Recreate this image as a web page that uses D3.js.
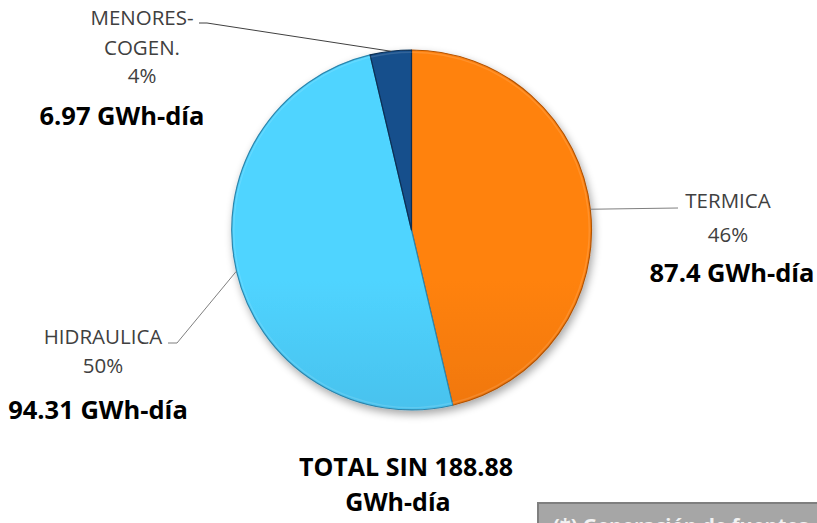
<!DOCTYPE html>
<html>
<head>
<meta charset="utf-8">
<script src="https://cdn.jsdelivr.net/npm/d3@7"></script>
<style>
  html, body { margin: 0; padding: 0; background: #fff; overflow: hidden; }
  svg { display: block; }
</style>
</head>
<body>
<div id="holder"></div>
<script>
const w = 817;
const h = 523;

// DATA
const categorias = ["TERMICA", "HIDRAULICA", "MENORES-\nCOGEN."];
const energia = [87.4, 94.31, 6.97];
const unidad = "GWh-día";
const totalSin = 188.88;

// LAYOUT
const cx = 411.5, cy = 230, radio = 180;
const colores = [
    { top: "#ff8210", bottom: "#d6640b", edge: "#b35406" },
    { top: "#50d4ff", bottom: "#3aa2cf", edge: "#2d86ad" },
    { top: "#164f8c", bottom: "#0e3e6e", edge: "#0a2e52" }
];
// where each label block sits (center x, baselines) and its leader elbow
const etiquetas = [
    { x: 728, lines: [208, 242], bold: 282, boldX: 732, elbow: [[678, 208]] },
    { x: 103, lines: [344, 373], bold: 419, boldX: 98, elbow: [[177, 343], [168, 343]] },
    { x: 142, lines: [25, 55, 83], bold: 125, boldX: 122, elbow: [[207, 23], [199, 23]] }
];

const svg = d3.select("#holder")
    .append("svg")
    .attr("width", w)
    .attr("height", h)
    .style("font-family", "'Open Sans', sans-serif");

const defs = svg.append("defs");

colores.forEach((c, i) => {
    const g = defs.append("linearGradient")
        .attr("id", "grad" + i)
        .attr("gradientUnits", "userSpaceOnUse")
        .attr("x1", 0).attr("y1", cy - radio)
        .attr("x2", 0).attr("y2", cy + radio);
    g.append("stop").attr("offset", "0%").attr("stop-color", c.top);
    g.append("stop").attr("offset", "100%").attr("stop-color", c.bottom);
});

const sombra = defs.append("filter")
    .attr("id", "sombra")
    .attr("x", "-20%").attr("y", "-20%")
    .attr("width", "140%").attr("height", "140%");
sombra.append("feGaussianBlur").attr("in", "SourceAlpha").attr("stdDeviation", 4);
sombra.append("feOffset").attr("dx", 2).attr("dy", 4).attr("result", "blur");
sombra.append("feComponentTransfer").append("feFuncA").attr("type", "linear").attr("slope", 0.35);
const merge = sombra.append("feMerge");
merge.append("feMergeNode");
merge.append("feMergeNode").attr("in", "SourceGraphic");

// PIE
const pie = d3.pie().sort(null).value(d => d);
const arcos = pie(energia);
const arc = d3.arc().innerRadius(0).outerRadius(radio);
const borde = d3.arc().innerRadius(radio).outerRadius(radio);
const suma = d3.sum(energia);

const g = svg.append("g")
    .attr("transform", `translate(${cx},${cy})`);

g.append("g")
    .attr("filter", "url(#sombra)")
    .selectAll("path")
    .data(arcos)
    .enter()
    .append("path")
    .attr("d", arc)
    .attr("fill", (d, i) => `url(#grad${i})`)
    .attr("stroke", (d, i) => colores[i].edge)
    .attr("stroke-width", 1.2)
    .attr("stroke-linejoin", "round");

// inner bevel highlight
g.selectAll("path.bisel")
    .data(arcos)
    .enter()
    .append("path")
    .attr("class", "bisel")
    .attr("d", d3.arc().innerRadius(radio - 3).outerRadius(radio - 1.5))
    .attr("fill", "#fff")
    .attr("opacity", 0.12);

// LEADER LINES
arcos.forEach((d, i) => {
    const p = borde.centroid(d);
    const pts = [[cx + p[0], cy + p[1]]].concat(etiquetas[i].elbow);
    svg.append("path")
        .attr("d", d3.line()(pts))
        .attr("fill", "none")
        .attr("stroke", i === 2 ? "#404040" : "#7f7f7f")
        .attr("stroke-width", 1);
});

// LABELS
arcos.forEach((d, i) => {
    const e = etiquetas[i];
    const pct = Math.round(d.value / suma * 100) + "%";
    const lineas = categorias[i].split("\n").concat([pct]);
    lineas.forEach((t, j) => {
        svg.append("text")
            .attr("x", e.x)
            .attr("y", e.lines[j])
            .attr("text-anchor", "middle")
            .style("font-size", "20.5px")
            .style("fill", "#404040")
            .text(t);
    });
    svg.append("text")
        .attr("x", e.boldX)
        .attr("y", e.bold)
        .attr("text-anchor", "middle")
        .style("font-size", "25.5px")
        .style("font-weight", "bold")
        .style("fill", "#000")
        .text(`${energia[i]} ${unidad}`);
});

// TOTAL
svg.append("text")
    .attr("x", 406)
    .attr("y", 476)
    .attr("text-anchor", "middle")
    .style("font-size", "25px")
    .style("font-weight", "bold")
    .text(`TOTAL SIN ${totalSin}`);
svg.append("text")
    .attr("x", 398)
    .attr("y", 511)
    .attr("text-anchor", "middle")
    .style("font-size", "25px")
    .style("font-weight", "bold")
    .text(unidad);

// NOTE BOX (cut off at bottom, as in the source)
svg.append("rect")
    .attr("x", 538)
    .attr("y", 503)
    .attr("width", 290)
    .attr("height", 40)
    .attr("fill", "#a6a6a6")
    .attr("stroke", "#7f7f7f")
    .attr("stroke-width", 2);
svg.append("text")
    .attr("x", 553)
    .attr("y", 533)
    .style("font-size", "20px")
    .style("font-weight", "bold")
    .style("fill", "#f2f2f2")
    .text("(*) Generación de fuentes");
</script>
</body>
</html>
